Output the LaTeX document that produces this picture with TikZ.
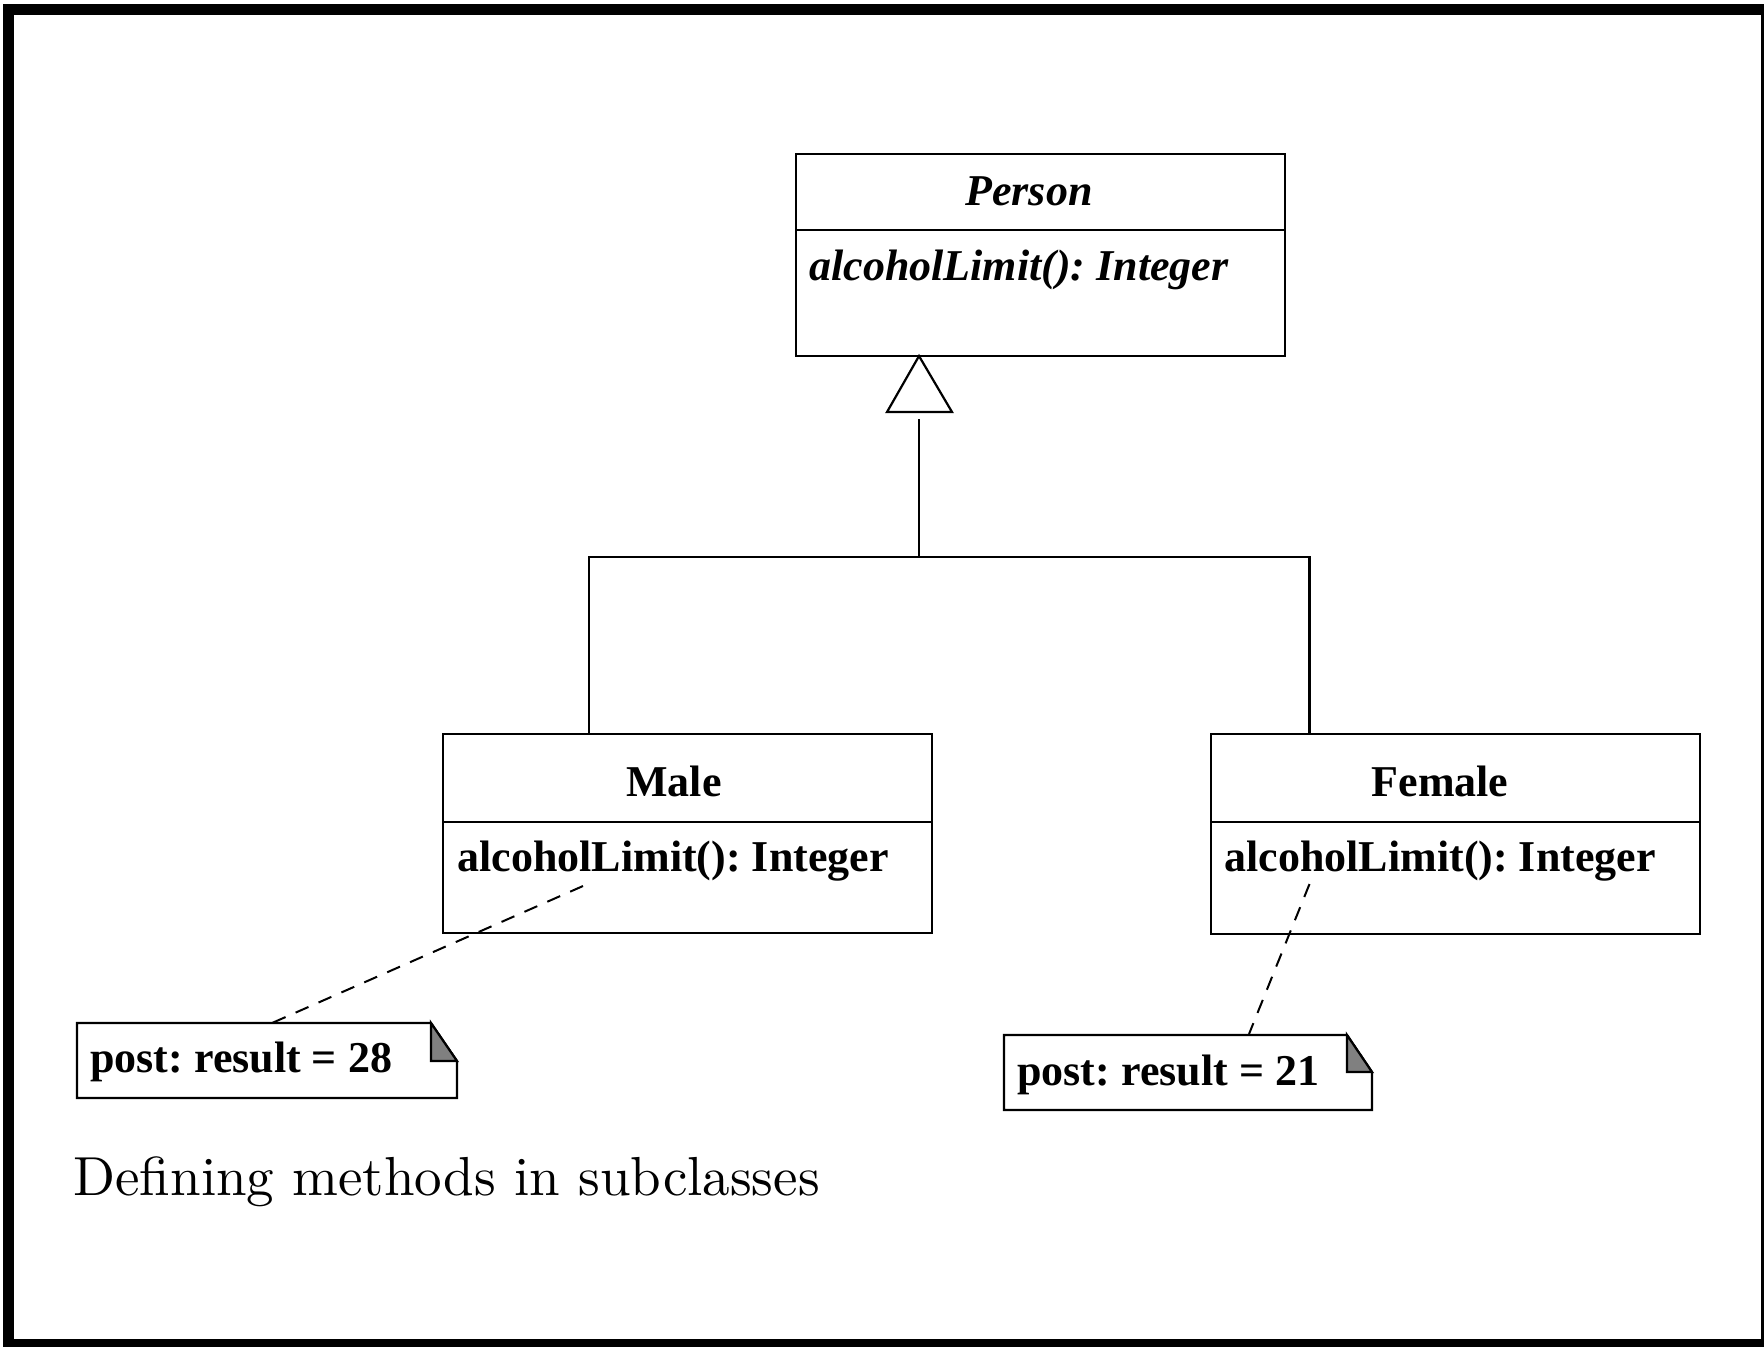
\documentclass[tikz,border=0pt]{standalone}
\usepackage{fontspec}
\newfontfamily\tms{Liberation Serif}
\newfontfamily\lmten{lmroman10-regular}[Extension=.otf]
\newcommand\umlfont{\tms\fontsize{22}{26}\selectfont\frenchspacing}
\begin{document}
\begin{tikzpicture}[x=0.5pt,y=-0.5pt,
  lw/.style={line width=1.1pt},
  box/.style={draw,lw,minimum width=244.5pt,inner sep=0pt},
  ttl/.style={font=\umlfont\bfseries,inner sep=0pt,anchor=base},
  meth/.style={font=\umlfont\bfseries,inner sep=0pt,anchor=base west},
  notetxt/.style={font=\umlfont\bfseries,inner sep=0pt,anchor=base west},
  notedash/.style={line width=1pt,dash pattern=on 7pt off 5.5pt},
  fold/.style={lw,fill=black!50}]
\clip (0,0) rectangle (1764,1346);
\draw[line width=5.5pt] (8.5,9.5) rectangle (1766.5,1344.5);

% classes
\node[box,minimum height=101pt] (person) at (1040.5,255) {};
\draw[lw] (796,230) -- (1285,230);
\node[ttl,font=\umlfont\bfseries\itshape] (persont) at (1029,205) {Person};
\node[meth,font=\umlfont\bfseries\itshape] (personm) at (809,280) {alcoholLimit(): Integer};

\node[box,minimum height=99.5pt] (male) at (687.5,833.5) {};
\draw[lw] (443,822) -- (932,822);
\node[ttl] (malet) at (674,796) {Male};
\node[meth] (malem) at (457,871) {alcoholLimit(): Integer};

\node[box,minimum height=100pt] (female) at (1455.75,834) {};
\draw[lw] (1211.5,822) -- (1700,822);
\node[ttl] (femalet) at (1440,796) {Female};
\node[meth] (femalem) at (1224,871) {alcoholLimit(): Integer};

% generalization
\coordinate (apex) at (919,356);
\coordinate (stem) at (919,419);
\coordinate (junction) at (919,557);
\coordinate (mtop) at (589,734);
\coordinate (ftop) at (1309.5,734);
\draw[lw,fill=white] (apex) -- (887,412) -- (952,412) -- cycle;
\draw[lw] (stem) -- (junction);
\draw[lw] (mtop) |- (junction) -| (ftop);

% notes
\draw[lw,fill=white] (77,1023) -- (431,1023) -- (457,1061) -- (457,1098) -- (77,1098) -- cycle;
\draw[fold] (431,1023) -- (431,1061) -- (457,1061) -- cycle;
\node[notetxt] (note28) at (90,1072) {post: result = 28};

\draw[lw,fill=white] (1004,1035) -- (1347,1035) -- (1372,1072) -- (1372,1110) -- (1004,1110) -- cycle;
\draw[fold] (1347,1035) -- (1347,1072) -- (1372,1072) -- cycle;
\node[notetxt] (note21) at (1017,1085) {post: result = 21};

\coordinate (ma) at (583,886);
\coordinate (n28) at (272,1023);
\coordinate (fa) at (1309.5,884);
\coordinate (n21) at (1249,1034);
\draw[notedash] (ma) -- (n28);
\draw[notedash] (fa) -- (n21);

% caption
\node[inner sep=0pt,anchor=base west,font=\lmten\fontsize{27.5}{33}\selectfont] (caption) at (73,1195) {Defining methods in subclasses};
\end{tikzpicture}
\end{document}
